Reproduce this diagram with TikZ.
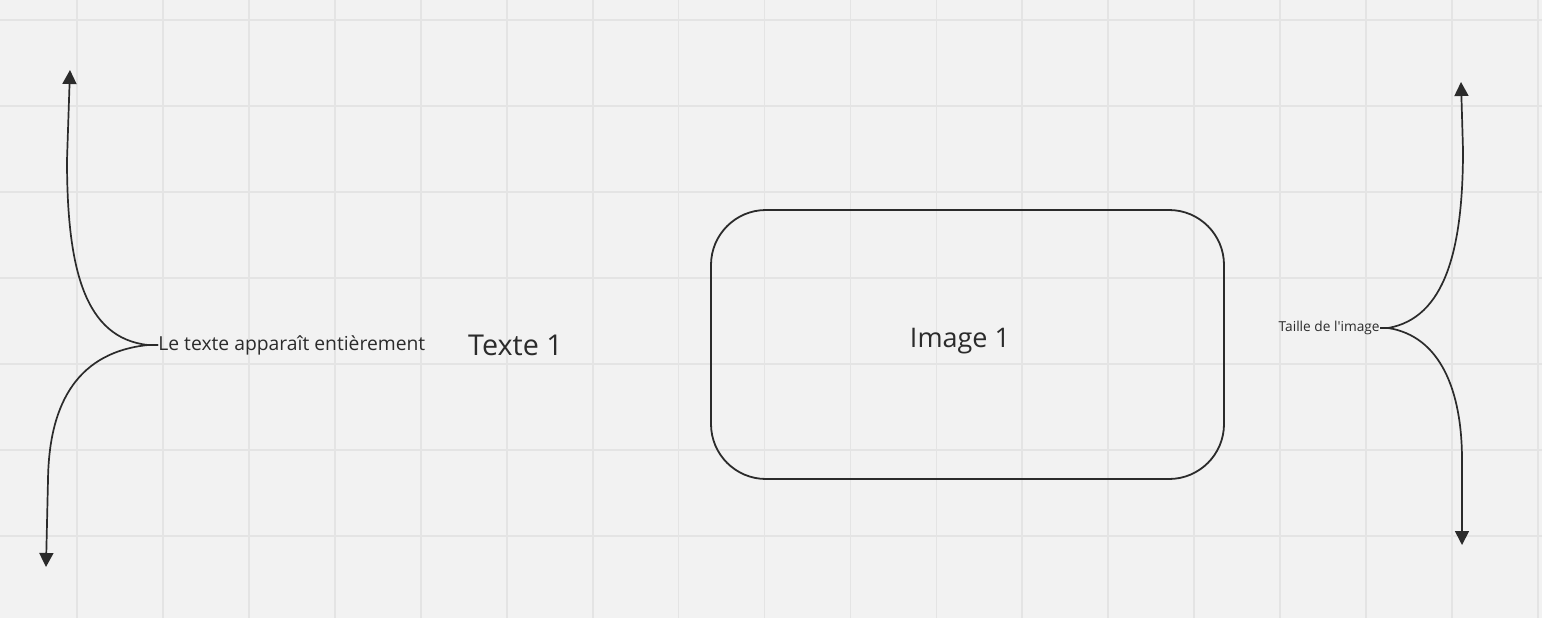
\documentclass[tikz,border=0pt]{standalone}
\usepackage{fontspec}
\setmainfont{Open Sans}
\usetikzlibrary{arrows.meta}
\definecolor{bg}{HTML}{F2F2F2}
\definecolor{gridc}{HTML}{E4E4E4}
\definecolor{ink}{HTML}{2B2B2B}

\begin{document}
\begin{tikzpicture}[x=1pt, y=-1pt, thick, ink,
    arr/.style = {draw=ink, line width=1.7pt, -{Triangle[width=14pt,length=14pt]}},
    txt/.style = {inner sep=0pt, text=ink},
    box/.style = {draw=ink, line width=1.8pt, rounded corners=55pt, minimum width=513pt, minimum height=269pt}]
        \fill[bg] (0,0) rectangle (1542,618);
        \useasboundingbox (0,0) rectangle (1542,618);
        \foreach \i in {0,...,17} \draw[gridc, line width=1.8pt] (77+85.94*\i,0) -- (77+85.94*\i,618);
        \foreach \j in {0,...,6} \draw[gridc, line width=1.8pt] (0,20+86*\j) -- (1542,20+86*\j);
        \node[txt, anchor=west, font=\fontsize{19.3}{23}\selectfont] (lbl1) at (158,345) {Le texte apparaît entièrement};
        \node[txt, font=\fontsize{28.7}{34}\selectfont] (txt1) at (515.5,345) {Texte 1};
        \node[box, label={[txt, font=\fontsize{27}{32}\selectfont, xshift=-7.5pt, yshift=3pt]center:Image 1}] (img1) at (967.5,344.5) {};
        \node[txt, anchor=east, font=\fontsize{13.7}{16}\selectfont] (lbl2) at (1380,328) {Taille de l\textquotesingle image};
        \coordinate (t1) at (70,70);
        \coordinate (b1) at (46,567);
        \coordinate (t2) at (1461,82);
        \coordinate (b2) at (1462,545);
        \draw[arr] (lbl1.west) -- (148,345) .. controls (85,338) and (67,270) .. (67,160) -- (t1);
        \draw[arr] (lbl1.west) -- (148,345) .. controls (80,352) and (49,400) .. (48,480) -- (b1);
        \draw[arr] (lbl2.east) -- (1388,328) .. controls (1445,318) and (1463,250) .. (1463,150) -- (t2);
        \draw[arr] (lbl2.east) -- (1388,328) .. controls (1440,336) and (1462,390) .. (1462,460) -- (b2);
    \end{tikzpicture}
\end{document}
